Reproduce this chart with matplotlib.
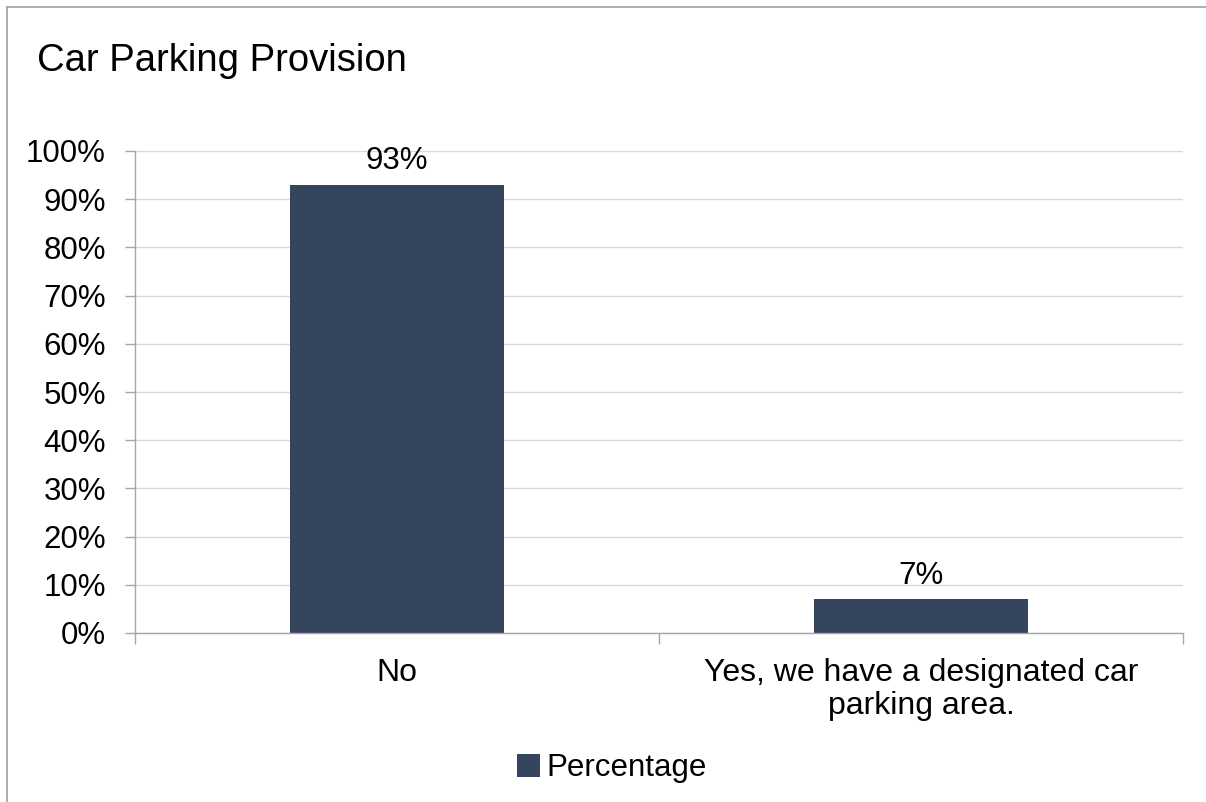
import matplotlib.pyplot as plt
from matplotlib.lines import Line2D
from matplotlib.ticker import FixedLocator, PercentFormatter

plt.rcParams['font.family'] = ['Liberation Sans', 'DejaVu Sans']

categories = ["No", "Yes, we have a designated car\nparking area."]
percentage = [0.93, 0.07]
series_name = "Percentage"
title = "Car Parking Provision"

bar_color = "#36455e"
grid_color = "#d9d9d9"
axis_color = "#a6a6a6"

W, H = 1206, 802
fig = plt.figure(figsize=(W / 100, H / 100), dpi=100)
ax = fig.add_axes([135 / W, 1 - 633 / H, 1048 / W, 482 / H])

x = list(range(len(categories)))
bars = ax.bar(x, percentage, width=0.41, color=bar_color, label=series_name, zorder=3)

for b, v in zip(bars, percentage):
    ax.annotate(f"{v:.0%}", (b.get_x() + b.get_width() / 2, v),
                xytext=(0, 6), textcoords="offset points",
                ha="center", va="bottom", fontsize=22.5)

ax.set_xlim(-0.5, len(categories) - 0.5)
ax.set_ylim(0, 1)
ax.yaxis.set_major_locator(FixedLocator([i / 10 for i in range(11)]))
ax.yaxis.set_major_formatter(PercentFormatter(1.0, decimals=0))
ax.set_xticks(x)
ax.set_xticklabels(categories, fontsize=23, linespacing=1.12)
ax.set_xticks([i - 0.5 for i in range(len(categories) + 1)], minor=True)
ax.tick_params(axis="x", which="major", length=0, pad=18)
ax.tick_params(axis="x", which="minor", length=8, color=axis_color, width=1)
ax.tick_params(axis="y", length=7, color=axis_color, width=1, labelsize=22.5, pad=14)

ax.grid(axis="y", color=grid_color, linewidth=1, zorder=0)
for side in ("top", "right"):
    ax.spines[side].set_visible(False)
for side in ("left", "bottom"):
    ax.spines[side].set_color(axis_color)
    ax.spines[side].set_linewidth(1)
ax.spines["bottom"].set_zorder(4)

fig.text(37 / W, 1 - 61 / H, title, fontsize=27.5, va="center", ha="left")

fig.legend(loc="center", bbox_to_anchor=(612 / W, 1 - 768 / H), frameon=False,
           fontsize=22.5, handlelength=0.75, handleheight=0.75, handletextpad=0.2)

# chart area outline
fig.add_artist(Line2D([7 / W, 1], [1 - 7 / H, 1 - 7 / H], transform=fig.transFigure,
                      color="#a0a0a0", linewidth=1.2))
fig.add_artist(Line2D([7 / W, 7 / W], [0, 1 - 7 / H], transform=fig.transFigure,
                      color="#a0a0a0", linewidth=1.2))

fig.savefig("out.png", dpi=100)
